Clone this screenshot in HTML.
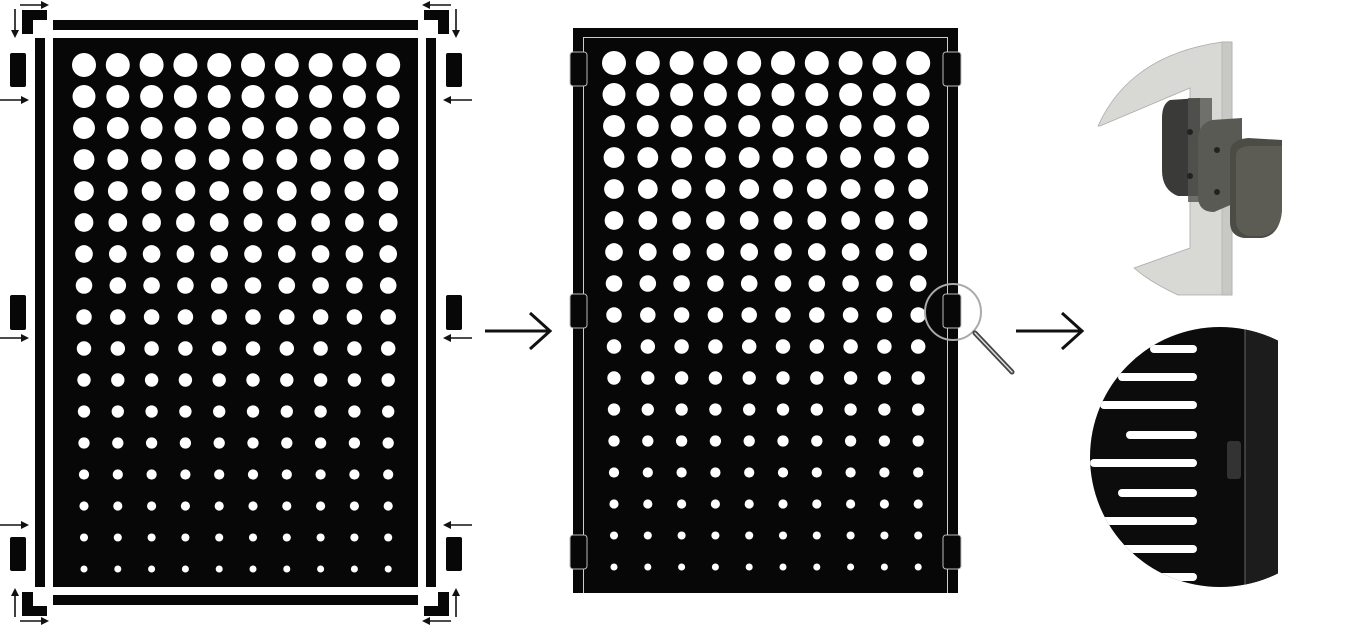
<!DOCTYPE html>
<html><head><meta charset="utf-8"><style>html,body{margin:0;padding:0;background:#fff;width:1348px;height:626px;overflow:hidden}svg{display:block}</style></head>
<body>
<svg id="s" width="1348" height="626" viewBox="0 0 1348 626" xmlns="http://www.w3.org/2000/svg">
<defs>
<marker id="ah" markerWidth="8" markerHeight="8" refX="6" refY="4" orient="auto" markerUnits="userSpaceOnUse"><path d="M0,0 L8,4 L0,8 Z" fill="#111"/></marker>
<clipPath id="cb"><circle cx="1220" cy="457" r="130"/></clipPath>
<clipPath id="cbr"><rect x="1080" y="320" width="198" height="270"/></clipPath>
</defs>
<!-- LEFT PANEL -->
<rect x="53" y="38" width="365" height="549" fill="#070707"/>
<rect x="35" y="38" width="10" height="549" fill="#070707"/>
<rect x="426" y="38" width="10" height="549" fill="#070707"/>
<rect x="53" y="20" width="365" height="10" fill="#070707"/>
<rect x="53" y="595" width="365" height="10" fill="#070707"/>
<g fill="#070707">
<path d="M22,10 H47 V20 H33 V34 H22 Z"/>
<path d="M449,10 H424 V20 H438 V34 H449 Z"/>
<path d="M22,616 H47 V606 H33 V592 H22 Z"/>
<path d="M449,616 H424 V606 H438 V592 H449 Z"/>
<rect x="10" y="53" width="16" height="34" rx="2"/><rect x="10" y="295" width="16" height="35" rx="2"/><rect x="10" y="537" width="16" height="34" rx="2"/>
<rect x="446" y="53" width="16" height="34" rx="2"/><rect x="446" y="295" width="16" height="35" rx="2"/><rect x="446" y="537" width="16" height="34" rx="2"/>
</g>
<g stroke="#111" stroke-width="1.6" fill="none" marker-end="url(#ah)">
<line x1="20" y1="5" x2="47" y2="5"/><line x1="15" y1="9" x2="15" y2="36"/>
<line x1="451" y1="5" x2="424" y2="5"/><line x1="456" y1="9" x2="456" y2="36"/>
<line x1="0" y1="100" x2="27" y2="100"/><line x1="0" y1="338" x2="27" y2="338"/><line x1="0" y1="525" x2="27" y2="525"/>
<line x1="472" y1="100" x2="445" y2="100"/><line x1="472" y1="338" x2="445" y2="338"/><line x1="472" y1="525" x2="445" y2="525"/>
<line x1="15" y1="617" x2="15" y2="590"/><line x1="20" y1="621" x2="47" y2="621"/>
<line x1="456" y1="617" x2="456" y2="590"/><line x1="451" y1="621" x2="424" y2="621"/>
</g>
<g id="lc" fill="#fff"></g>
<!-- ARROWS -->
<g stroke="#111" stroke-width="3" fill="none">
<line x1="485" y1="331" x2="550" y2="331"/><polyline points="530,313 550,331 530,349"/>
<line x1="1016" y1="331" x2="1082" y2="331"/><polyline points="1062,313 1082,331 1062,349"/>
</g>
<!-- MIDDLE PANEL -->
<rect x="573" y="28" width="385" height="565" fill="#070707"/>
<path d="M583.5,593 V37.5 H947.5 V593" stroke="#ccc" stroke-width="1" fill="none"/>
<g id="mc" fill="#fff"></g>
<g fill="#070707" stroke="#bbb" stroke-width="1">
<rect x="570" y="52" width="17" height="34" rx="3"/><rect x="570" y="294" width="17" height="34" rx="3"/><rect x="570" y="535" width="17" height="34" rx="3"/>
<rect x="943" y="52" width="18" height="34" rx="3"/><rect x="943" y="294" width="18" height="34" rx="3"/><rect x="943" y="535" width="18" height="34" rx="3"/>
</g>
<circle cx="953" cy="312" r="28" fill="none" stroke="#aaa" stroke-width="2"/>
<line x1="975" y1="333" x2="1012" y2="372" stroke="#444" stroke-width="5" stroke-linecap="round"/>
<line x1="975" y1="333" x2="1012" y2="372" stroke="#ddd" stroke-width="1.5" stroke-linecap="round"/>
<!-- TOP RIGHT 3D -->
<path d="M1098,126 Q1130,55 1222,42 L1232,42 L1232,295 L1178,295 Q1150,282 1134,268 L1190,248 L1190,88 L1100,126 Z" fill="#d8d8d4" stroke="#aaa" stroke-width="0.8"/>
<rect x="1222" y="42" width="10" height="253" fill="#c8c8c4" stroke="#aaa" stroke-width="0.6"/>
<path d="M1170,100 Q1162,104 1162,118 V170 Q1162,190 1178,196 L1200,196 V98 Z" fill="#3a3a38"/>
<rect x="1188" y="98" width="24" height="104" fill="#555550" opacity="0.8"/>
<path d="M1212,120 Q1198,124 1198,140 V196 Q1198,212 1214,212 L1242,200 V118 Z" fill="#5a5a54"/>
<path d="M1230,152 Q1230,140 1248,138 L1282,140 V205 Q1282,235 1262,238 L1244,238 Q1230,236 1230,222 Z" fill="#4c4c47"/>
<path d="M1236,156 Q1236,146 1252,146 L1282,146 V208 Q1282,232 1262,236 L1248,236 Q1236,232 1236,220 Z" fill="#5c5c55"/>
<circle cx="1190" cy="132" r="3" fill="#222"/><circle cx="1190" cy="176" r="3" fill="#222"/>
<circle cx="1217" cy="150" r="3" fill="#222"/><circle cx="1217" cy="192" r="3" fill="#222"/>
<!-- BOTTOM RIGHT PHOTO -->
<g clip-path="url(#cbr)"><g clip-path="url(#cb)">
<rect x="1080" y="320" width="220" height="280" fill="#0c0c0c"/>
<g fill="#fff" id="slots"></g>
<rect x="1245" y="320" width="40" height="280" fill="#1c1c1c"/>
<line x1="1245" y1="320" x2="1245" y2="600" stroke="#666" stroke-width="1"/>
<rect x="1227" y="441" width="14" height="38" rx="3" fill="#333"/>
</g></g>
</svg>
<script>
var N="http://www.w3.org/2000/svg";
function circ(g,cx,cy,r){var c=document.createElementNS(N,"circle");c.setAttribute("cx",cx);c.setAttribute("cy",cy);c.setAttribute("r",r);g.appendChild(c);}
var lc=document.getElementById("lc"),mc=document.getElementById("mc");
for(var i=0;i<17;i++){var r=12-i*0.53;for(var j=0;j<10;j++){circ(lc,84+j*33.8,65+i*31.5,r);circ(mc,614+j*33.8,63+i*31.5,r);}}
var sl=document.getElementById("slots");
var ys=[349,377,405,435,463,493,521,549,577],xs=[1150,1118,1100,1126,1090,1118,1100,1118,1100];
for(var k=0;k<ys.length;k++){var rc=document.createElementNS(N,"rect");rc.setAttribute("x",xs[k]);rc.setAttribute("y",ys[k]-4);rc.setAttribute("width",1197-xs[k]);rc.setAttribute("height",8);rc.setAttribute("rx",4);sl.appendChild(rc);}
</script>
</body></html>
